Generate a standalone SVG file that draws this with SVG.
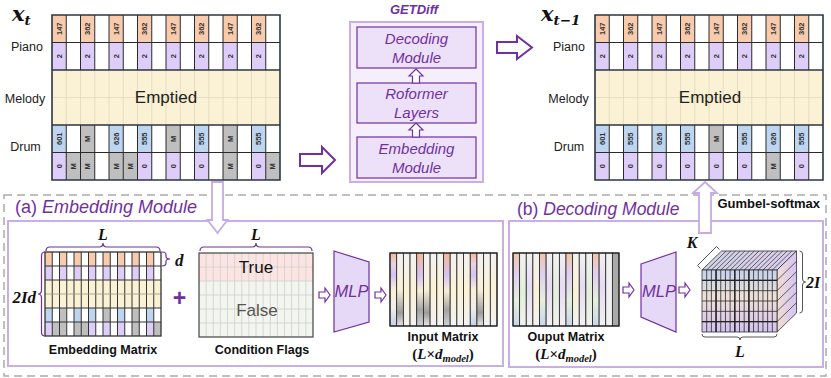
<svg xmlns="http://www.w3.org/2000/svg" xmlns:xlink="http://www.w3.org/1999/xlink" width="831" height="378" viewBox="0 0 831 378">
<style>
text{font-family:"Liberation Sans",Arial,sans-serif}
.ct{font-size:7.5px;font-weight:bold;fill:#333;text-anchor:middle;dominant-baseline:central}
.lbl{font-size:12.5px;fill:#222;text-anchor:middle}
.emp{font-size:17px;fill:#222;text-anchor:middle}
.mod{font-size:15px;font-style:italic;fill:#7030a0;text-anchor:middle}
.cap{font-size:12.5px;font-weight:bold;fill:#111;text-anchor:middle}
.math{font-family:"Liberation Serif","Times New Roman",serif;font-weight:bold;font-style:italic;fill:#111}
.mx{font-family:"DejaVu Serif",serif;font-weight:bold;font-style:italic;fill:#111}
.or{fill:#f8cbad}.pu{fill:#ddcdf8}.bl{fill:#bdd5ee}.gr{fill:#bfbfbf}
.dk{stroke:#2a2a2a;stroke-width:1;fill:none}
.fa{stroke:#e2d8bc;stroke-width:0.8;fill:none}
.thick{stroke:#2b3644;stroke-width:1.6;fill:none}
.inner{fill:#ece1f8;stroke:#7030a0;stroke-width:1.2}
.big{fill:#fff;stroke:#7030a0;stroke-width:2;stroke-linejoin:miter}
.lt{fill:#fff;stroke:#c6aae8;stroke-width:1.8}
.sa{fill:#fff;stroke:#7030a0;stroke-width:1.2}
.brace{fill:none;stroke:#7030a0;stroke-width:1.2}
.gbrace{fill:none;stroke:#555;stroke-width:1}
.mlp{fill:#e6d9f8;stroke:#7030a0;stroke-width:1.2}
.mlpt{font-size:16.5px;font-style:italic;fill:#7030a0;text-anchor:middle}
.st{stroke:#222;stroke-width:0.8}
</style>
<defs>
<linearGradient id="gN1" x1="0" y1="0" x2="0" y2="1"><stop offset="0" stop-color="#f4b894"/><stop offset="0.15" stop-color="#ecd2e4"/><stop offset="0.3" stop-color="#d6c2f2"/><stop offset="0.5" stop-color="#faf0d8"/><stop offset="0.75" stop-color="#f2efea"/><stop offset="1" stop-color="#c2d0ea"/></linearGradient>
<linearGradient id="gN2" x1="0" y1="0" x2="0" y2="1"><stop offset="0" stop-color="#f4b894"/><stop offset="0.3" stop-color="#d6c2f2"/><stop offset="0.52" stop-color="#f8eed6"/><stop offset="0.78" stop-color="#a4a4a4"/><stop offset="1" stop-color="#d0d0d0"/></linearGradient>
<linearGradient id="gE1" x1="0" y1="0" x2="0" y2="1"><stop offset="0" stop-color="#f2f2f2"/><stop offset="0.5" stop-color="#fbf1d6"/><stop offset="1" stop-color="#f2f2f2"/></linearGradient>
<linearGradient id="gE2" x1="0" y1="0" x2="0" y2="1"><stop offset="0" stop-color="#f2f2f2"/><stop offset="0.5" stop-color="#faf0d8"/><stop offset="0.82" stop-color="#9c9c9c"/><stop offset="1" stop-color="#e6e6e6"/></linearGradient>
<linearGradient id="gO1" x1="0" y1="0" x2="0" y2="1"><stop offset="0" stop-color="#f2c4a8"/><stop offset="0.3" stop-color="#e0d0f2"/><stop offset="0.65" stop-color="#e4efdc"/><stop offset="1" stop-color="#c8d6ec"/></linearGradient>
<linearGradient id="gO2" x1="0" y1="0" x2="0" y2="1"><stop offset="0" stop-color="#f1f1f1"/><stop offset="0.45" stop-color="#e6dbf4"/><stop offset="1" stop-color="#f1f1f1"/></linearGradient>
<linearGradient id="gO3" x1="0" y1="0" x2="0" y2="1"><stop offset="0" stop-color="#f1f1f1"/><stop offset="0.55" stop-color="#e2efda"/><stop offset="1" stop-color="#f1f1f1"/></linearGradient>
<linearGradient id="gCf" x1="0" y1="0" x2="0" y2="1"><stop offset="0" stop-color="#c4d2ec"/><stop offset="0.45" stop-color="#efe0d6"/><stop offset="0.7" stop-color="#e4d2e2"/><stop offset="1" stop-color="#d2c2f2"/></linearGradient>
<linearGradient id="gCs" x1="0" y1="0" x2="1" y2="0"><stop offset="0" stop-color="#f2ddd2"/><stop offset="1" stop-color="#d4c4f4"/></linearGradient>
<linearGradient id="gCt" x1="0" y1="0" x2="1" y2="0"><stop offset="0" stop-color="#cfd2e2"/><stop offset="1" stop-color="#dccdf0"/></linearGradient>
<polygon id="sa" class="sa" points="0,-3 6,-3 6,-7 11,0 6,7 6,3 0,3"/>
<g id="piano">
<rect x="52" y="70" width="228" height="55" fill="#fbf2d5"/>
<rect class="or" x="52" y="15" width="14.25" height="27.5"/><rect class="or" x="80.5" y="15" width="14.25" height="27.5"/><rect class="or" x="109" y="15" width="14.25" height="27.5"/><rect class="or" x="137.5" y="15" width="14.25" height="27.5"/><rect class="or" x="166" y="15" width="14.25" height="27.5"/><rect class="or" x="194.5" y="15" width="14.25" height="27.5"/><rect class="or" x="223" y="15" width="14.25" height="27.5"/><rect class="or" x="251.5" y="15" width="14.25" height="27.5"/>
<rect class="pu" x="52" y="42.5" width="14.25" height="27.5"/><rect class="pu" x="80.5" y="42.5" width="14.25" height="27.5"/><rect class="pu" x="109" y="42.5" width="14.25" height="27.5"/><rect class="pu" x="137.5" y="42.5" width="14.25" height="27.5"/><rect class="pu" x="166" y="42.5" width="14.25" height="27.5"/><rect class="pu" x="194.5" y="42.5" width="14.25" height="27.5"/><rect class="pu" x="223" y="42.5" width="14.25" height="27.5"/><rect class="pu" x="251.5" y="42.5" width="14.25" height="27.5"/>
<text class="ct" transform="translate(59.125 28.75) rotate(-90)">147</text><text class="ct" transform="translate(87.625 28.75) rotate(-90)">362</text><text class="ct" transform="translate(116.125 28.75) rotate(-90)">147</text><text class="ct" transform="translate(144.625 28.75) rotate(-90)">362</text><text class="ct" transform="translate(173.125 28.75) rotate(-90)">147</text><text class="ct" transform="translate(201.625 28.75) rotate(-90)">362</text><text class="ct" transform="translate(230.125 28.75) rotate(-90)">147</text><text class="ct" transform="translate(258.625 28.75) rotate(-90)">362</text>
<text class="ct" transform="translate(59.125 56.25) rotate(-90)">2</text><text class="ct" transform="translate(87.625 56.25) rotate(-90)">2</text><text class="ct" transform="translate(116.125 56.25) rotate(-90)">2</text><text class="ct" transform="translate(144.625 56.25) rotate(-90)">2</text><text class="ct" transform="translate(173.125 56.25) rotate(-90)">2</text><text class="ct" transform="translate(201.625 56.25) rotate(-90)">2</text><text class="ct" transform="translate(230.125 56.25) rotate(-90)">2</text><text class="ct" transform="translate(258.625 56.25) rotate(-90)">2</text>
</g>
<g id="lines">
<path class="fa" d="M66.25 70V125M80.5 70V125M94.75 70V125M109 70V125M123.25 70V125M137.5 70V125M151.75 70V125M166 70V125M180.25 70V125M194.5 70V125M208.75 70V125M223 70V125M237.25 70V125M251.5 70V125M265.75 70V125M52 97.5H280"/>
<path class="dk" d="M66.25 15V70M80.5 15V70M94.75 15V70M109 15V70M123.25 15V70M137.5 15V70M151.75 15V70M166 15V70M180.25 15V70M194.5 15V70M208.75 15V70M223 15V70M237.25 15V70M251.5 15V70M265.75 15V70M66.25 125V180M80.5 125V180M94.75 125V180M109 125V180M123.25 125V180M137.5 125V180M151.75 125V180M166 125V180M180.25 125V180M194.5 125V180M208.75 125V180M223 125V180M237.25 125V180M251.5 125V180M265.75 125V180M52 42.5H280M52 152.5H280"/>
<path class="thick" d="M52 15H280V180H52ZM52 70H280M52 125H280"/>
</g>
</defs>

<g id="node-xt">
<text class="mx" x="12" y="21" font-size="21">x<tspan font-size="13.5" dy="4">t</tspan></text>
<use xlink:href="#piano"/>
<rect class="bl" x="52" y="125" width="14.25" height="27.5"/><rect class="gr" x="80.5" y="125" width="14.25" height="27.5"/><rect class="bl" x="109" y="125" width="14.25" height="27.5"/><rect class="bl" x="137.5" y="125" width="14.25" height="27.5"/><rect class="gr" x="166" y="125" width="14.25" height="27.5"/><rect class="bl" x="194.5" y="125" width="14.25" height="27.5"/><rect class="gr" x="223" y="125" width="14.25" height="27.5"/><rect class="bl" x="251.5" y="125" width="14.25" height="27.5"/>
<rect class="pu" x="52" y="152.5" width="14.25" height="27.5"/><rect class="gr" x="66.25" y="152.5" width="14.25" height="27.5"/><rect class="gr" x="80.5" y="152.5" width="14.25" height="27.5"/><rect class="gr" x="109" y="152.5" width="14.25" height="27.5"/><rect class="gr" x="123.25" y="152.5" width="14.25" height="27.5"/><rect class="pu" x="137.5" y="152.5" width="14.25" height="27.5"/><rect class="pu" x="166" y="152.5" width="14.25" height="27.5"/><rect class="pu" x="194.5" y="152.5" width="14.25" height="27.5"/><rect class="gr" x="223" y="152.5" width="14.25" height="27.5"/><rect class="pu" x="251.5" y="152.5" width="14.25" height="27.5"/><rect class="gr" x="265.75" y="152.5" width="14.25" height="27.5"/>
<text class="ct" transform="translate(59.125 138.75) rotate(-90)">601</text><text class="ct" transform="translate(87.625 138.75) rotate(-90)">M</text><text class="ct" transform="translate(116.125 138.75) rotate(-90)">626</text><text class="ct" transform="translate(144.625 138.75) rotate(-90)">555</text><text class="ct" transform="translate(173.125 138.75) rotate(-90)">M</text><text class="ct" transform="translate(201.625 138.75) rotate(-90)">555</text><text class="ct" transform="translate(230.125 138.75) rotate(-90)">M</text><text class="ct" transform="translate(258.625 138.75) rotate(-90)">555</text>
<text class="ct" transform="translate(59.125 166.25) rotate(-90)">0</text><text class="ct" transform="translate(73.375 166.25) rotate(-90)">M</text><text class="ct" transform="translate(87.625 166.25) rotate(-90)">M</text><text class="ct" transform="translate(116.125 166.25) rotate(-90)">M</text><text class="ct" transform="translate(130.375 166.25) rotate(-90)">M</text><text class="ct" transform="translate(144.625 166.25) rotate(-90)">0</text><text class="ct" transform="translate(173.125 166.25) rotate(-90)">0</text><text class="ct" transform="translate(201.625 166.25) rotate(-90)">0</text><text class="ct" transform="translate(230.125 166.25) rotate(-90)">M</text><text class="ct" transform="translate(258.625 166.25) rotate(-90)">0</text><text class="ct" transform="translate(272.875 166.25) rotate(-90)">M</text>
<use xlink:href="#lines"/>
<text class="emp" x="166" y="103">Emptied</text>
<text class="lbl" x="27" y="51">Piano</text>
<text class="lbl" x="25" y="103">Melody</text>
<text class="lbl" x="25.5" y="151">Drum</text>
</g>

<g id="node-xt1">
<text class="mx" x="541" y="21" font-size="21">x<tspan font-size="13.5" dy="4">t−1</tspan></text>
<g transform="translate(543 0)">
<use xlink:href="#piano"/>
<rect class="bl" x="52" y="125" width="14.25" height="27.5"/><rect class="bl" x="80.5" y="125" width="14.25" height="27.5"/><rect class="bl" x="109" y="125" width="14.25" height="27.5"/><rect class="bl" x="137.5" y="125" width="14.25" height="27.5"/><rect class="gr" x="166" y="125" width="14.25" height="27.5"/><rect class="bl" x="194.5" y="125" width="14.25" height="27.5"/><rect class="bl" x="223" y="125" width="14.25" height="27.5"/><rect class="bl" x="251.5" y="125" width="14.25" height="27.5"/>
<rect class="pu" x="52" y="152.5" width="14.25" height="27.5"/><rect class="pu" x="80.5" y="152.5" width="14.25" height="27.5"/><rect class="pu" x="109" y="152.5" width="14.25" height="27.5"/><rect class="pu" x="137.5" y="152.5" width="14.25" height="27.5"/><rect class="pu" x="166" y="152.5" width="14.25" height="27.5"/><rect class="pu" x="194.5" y="152.5" width="14.25" height="27.5"/><rect class="gr" x="223" y="152.5" width="14.25" height="27.5"/><rect class="pu" x="251.5" y="152.5" width="14.25" height="27.5"/>
<text class="ct" transform="translate(59.125 138.75) rotate(-90)">601</text><text class="ct" transform="translate(87.625 138.75) rotate(-90)">555</text><text class="ct" transform="translate(116.125 138.75) rotate(-90)">626</text><text class="ct" transform="translate(144.625 138.75) rotate(-90)">555</text><text class="ct" transform="translate(173.125 138.75) rotate(-90)">M</text><text class="ct" transform="translate(201.625 138.75) rotate(-90)">555</text><text class="ct" transform="translate(230.125 138.75) rotate(-90)">626</text><text class="ct" transform="translate(258.625 138.75) rotate(-90)">555</text>
<text class="ct" transform="translate(59.125 166.25) rotate(-90)">0</text><text class="ct" transform="translate(87.625 166.25) rotate(-90)">0</text><text class="ct" transform="translate(116.125 166.25) rotate(-90)">0</text><text class="ct" transform="translate(144.625 166.25) rotate(-90)">0</text><text class="ct" transform="translate(173.125 166.25) rotate(-90)">0</text><text class="ct" transform="translate(201.625 166.25) rotate(-90)">0</text><text class="ct" transform="translate(230.125 166.25) rotate(-90)">M</text><text class="ct" transform="translate(258.625 166.25) rotate(-90)">0</text>
<use xlink:href="#lines"/>
<text class="emp" x="167" y="103">Emptied</text>
</g>
<text class="lbl" x="569" y="51">Piano</text>
<text class="lbl" x="568.5" y="103">Melody</text>
<text class="lbl" x="569" y="151">Drum</text>
</g>

<g id="node-getdiff">
<text x="414" y="14" font-size="13" font-weight="bold" font-style="italic" fill="#7030a0" text-anchor="middle">GETDiff</text>
<rect x="350" y="22" width="133" height="160" fill="#f5eefc" stroke="#c9aee8" stroke-width="2"/>
<g id="node-decoding"><rect class="inner" x="357" y="27" width="119" height="41"/><text class="mod" x="416.5" y="44">Decoding</text><text class="mod" x="416.5" y="63">Module</text></g>
<g id="node-roformer"><rect class="inner" x="357" y="83" width="119" height="40"/><text class="mod" x="416.5" y="99">Roformer</text><text class="mod" x="416.5" y="118">Layers</text></g>
<g id="node-embedding"><rect class="inner" x="357" y="137" width="119" height="41"/><text class="mod" x="416.5" y="154">Embedding</text><text class="mod" x="416.5" y="173">Module</text></g>
<polygon class="sa" points="416,69 423,76 419.5,76 419.5,83 412.5,83 412.5,76 409,76"/>
<polygon class="sa" points="416,123 423,130 419.5,130 419.5,137 412.5,137 412.5,130 409,130"/>
</g>

<g id="panels">
<rect x="4" y="195" width="822" height="181" fill="none" stroke="#aaa" stroke-width="1.5" stroke-dasharray="8 5"/>
<rect x="8" y="221" width="495" height="145" fill="none" stroke="#c9aeea" stroke-width="2"/>
<rect x="509" y="221" width="314" height="146" fill="none" stroke="#c9aeea" stroke-width="2"/>
<text x="15" y="213" font-size="18" fill="#7030a0">(a) <tspan font-style="italic">Embedding Module</tspan></text>
<text x="517" y="215" font-size="17.5" fill="#7030a0">(b) <tspan font-style="italic">Decoding Module</tspan></text>
<text x="820" y="208" font-size="13" font-weight="bold" fill="#111" text-anchor="end">Gumbel-softmax</text>
</g>

<g id="node-embmatrix">
<rect class="or" x="45" y="252" width="7.25" height="14"/><rect class="or" x="59.5" y="252" width="7.25" height="14"/><rect class="or" x="74" y="252" width="7.25" height="14"/><rect class="or" x="88.5" y="252" width="7.25" height="14"/><rect class="or" x="103" y="252" width="7.25" height="14"/><rect class="or" x="117.5" y="252" width="7.25" height="14"/><rect class="or" x="132" y="252" width="7.25" height="14"/><rect class="or" x="146.5" y="252" width="7.25" height="14"/>
<rect class="pu" x="45" y="266" width="7.25" height="14"/><rect class="pu" x="59.5" y="266" width="7.25" height="14"/><rect class="pu" x="74" y="266" width="7.25" height="14"/><rect class="pu" x="88.5" y="266" width="7.25" height="14"/><rect class="pu" x="103" y="266" width="7.25" height="14"/><rect class="pu" x="117.5" y="266" width="7.25" height="14"/><rect class="pu" x="132" y="266" width="7.25" height="14"/><rect class="pu" x="146.5" y="266" width="7.25" height="14"/>
<rect x="45" y="280" width="116" height="28" fill="#fbf2d5"/>
<rect class="bl" x="45" y="308" width="7.25" height="14"/><rect class="gr" x="59.5" y="308" width="7.25" height="14"/><rect class="bl" x="74" y="308" width="7.25" height="14"/><rect class="bl" x="88.5" y="308" width="7.25" height="14"/><rect class="gr" x="103" y="308" width="7.25" height="14"/><rect class="bl" x="117.5" y="308" width="7.25" height="14"/><rect class="gr" x="132" y="308" width="7.25" height="14"/><rect class="bl" x="146.5" y="308" width="7.25" height="14"/>
<rect class="pu" x="45" y="322" width="7.25" height="14"/><rect class="gr" x="52.25" y="322" width="7.25" height="14"/><rect class="gr" x="59.5" y="322" width="7.25" height="14"/><rect class="gr" x="74" y="322" width="7.25" height="14"/><rect class="gr" x="81.25" y="322" width="7.25" height="14"/><rect class="pu" x="88.5" y="322" width="7.25" height="14"/><rect class="pu" x="103" y="322" width="7.25" height="14"/><rect class="pu" x="117.5" y="322" width="7.25" height="14"/><rect class="gr" x="132" y="322" width="7.25" height="14"/><rect class="pu" x="146.5" y="322" width="7.25" height="14"/><rect class="gr" x="153.75" y="322" width="7.25" height="14"/>
<path stroke="#333" stroke-width="1" fill="none" d="M52.25 252V336M59.5 252V336M66.75 252V336M74 252V336M81.25 252V336M88.5 252V336M95.75 252V336M103 252V336M110.25 252V336M117.5 252V336M124.75 252V336M132 252V336M139.25 252V336M146.5 252V336M153.75 252V336M45 266H161M45 280H161M45 308H161M45 322H161"/>
<path stroke="#9a9488" stroke-width="0.8" fill="none" d="M45 294H161"/>
<rect x="45" y="252" width="116" height="84" fill="none" stroke="#333" stroke-width="1.3"/>
<path class="brace" d="M46 251Q46 247 50 247H99Q103 247 103 243Q103 247 107 247H156Q160 247 160 251"/>
<text class="math" x="103" y="240" font-size="16" text-anchor="middle">L</text>
<path class="brace" d="M45 252Q41.5 252 41.5 256V290Q41.5 294 38 294Q41.5 294 41.5 298V332Q41.5 336 45 336"/>
<text class="math" x="36" y="303" font-size="17" text-anchor="end">2Id</text>
<path class="brace" d="M162 252Q166 252 166 255V256.5Q166 259 170 259Q166 259 166 261.5V263Q166 266 162 266"/>
<text class="math" x="175" y="266" font-size="17">d</text>
<text class="cap" x="103" y="354">Embedding Matrix</text>
</g>

<text x="179.5" y="306" font-size="23" font-weight="bold" fill="#7030a0" text-anchor="middle">+</text>

<g id="node-condflags">
<rect x="199" y="253" width="114" height="28" fill="#fbe4e2"/>
<rect x="199" y="281" width="114" height="56" fill="#f3f6ee"/>
<path stroke="#cfcfcf" stroke-width="0.8" fill="none" d="M206.13 253V337M213.25 253V337M220.38 253V337M227.5 253V337M234.63 253V337M241.75 253V337M248.88 253V337M256 253V337M263.13 253V337M270.25 253V337M277.38 253V337M284.5 253V337M291.63 253V337M298.75 253V337M305.88 253V337M199 267H313M199 281H313M199 295H313M199 309H313M199 323H313"/>
<rect x="199" y="253" width="114" height="84" fill="none" stroke="#444" stroke-width="1.2"/>
<text x="256" y="273" font-size="17" fill="#111" text-anchor="middle">True</text>
<text x="257" y="316" font-size="17" fill="#555" text-anchor="middle">False</text>
<path class="brace" d="M200 251Q200 247 204 247H252Q256 247 256 243Q256 247 260 247H308Q312 247 312 251"/>
<text class="math" x="256" y="240" font-size="16" text-anchor="middle">L</text>
<text class="cap" x="262" y="354">Condition Flags</text>
</g>

<g id="node-mlp-a">
<polygon class="mlp" points="334,251 369,262 369,322 334,332"/>
<text class="mlpt" x="351.5" y="297">MLP</text>
</g>

<g id="node-input">
<g class="st">
<rect x="390" y="253" width="6.69" height="73" fill="url(#gN1)"/><rect x="396.69" y="253" width="6.69" height="73" fill="url(#gE2)"/><rect x="403.38" y="253" width="6.69" height="73" fill="url(#gE1)"/><rect x="410.06" y="253" width="6.69" height="73" fill="url(#gE1)"/><rect x="416.75" y="253" width="6.69" height="73" fill="url(#gN2)"/><rect x="423.44" y="253" width="6.69" height="73" fill="url(#gE2)"/><rect x="430.13" y="253" width="6.69" height="73" fill="url(#gE1)"/><rect x="436.81" y="253" width="6.69" height="73" fill="url(#gE1)"/><rect x="443.5" y="253" width="6.69" height="73" fill="url(#gN2)"/><rect x="450.19" y="253" width="6.69" height="73" fill="url(#gE1)"/><rect x="456.88" y="253" width="6.69" height="73" fill="url(#gE1)"/><rect x="463.56" y="253" width="6.69" height="73" fill="url(#gE1)"/><rect x="470.25" y="253" width="6.69" height="73" fill="url(#gN1)"/><rect x="476.94" y="253" width="6.69" height="73" fill="url(#gE2)"/><rect x="483.63" y="253" width="6.69" height="73" fill="url(#gE1)"/><rect x="490.31" y="253" width="6.69" height="73" fill="url(#gE1)"/>
</g>
<rect x="390" y="253" width="107" height="73" fill="none" stroke="#222" stroke-width="1.2"/>
<text class="cap" x="443" y="341">Input Matrix</text>
<text class="math" x="443" y="359" font-size="15" text-anchor="middle"><tspan font-style="normal">(</tspan>L<tspan font-style="normal">×</tspan>d<tspan font-size="10.5" dy="3">model</tspan><tspan font-style="normal" dy="-3">)</tspan></text>
</g>

<g id="node-output">
<g class="st">
<rect x="513" y="253" width="6.63" height="73" fill="url(#gO1)"/><rect x="519.63" y="253" width="6.63" height="73" fill="url(#gO3)"/><rect x="526.25" y="253" width="6.63" height="73" fill="url(#gO2)"/><rect x="532.88" y="253" width="6.63" height="73" fill="url(#gE1)"/><rect x="539.5" y="253" width="6.63" height="73" fill="url(#gO1)"/><rect x="546.13" y="253" width="6.63" height="73" fill="url(#gO2)"/><rect x="552.75" y="253" width="6.63" height="73" fill="url(#gO3)"/><rect x="559.38" y="253" width="6.63" height="73" fill="url(#gO2)"/><rect x="566" y="253" width="6.63" height="73" fill="url(#gO1)"/><rect x="572.63" y="253" width="6.63" height="73" fill="url(#gE1)"/><rect x="579.25" y="253" width="6.63" height="73" fill="url(#gO2)"/><rect x="585.88" y="253" width="6.63" height="73" fill="url(#gO3)"/><rect x="592.5" y="253" width="6.63" height="73" fill="url(#gO1)"/><rect x="599.13" y="253" width="6.63" height="73" fill="url(#gO2)"/><rect x="605.75" y="253" width="6.63" height="73" fill="#f0f0f0"/><rect x="612.38" y="253" width="6.63" height="73" fill="#a9a9a9"/>
</g>
<rect x="513" y="253" width="106" height="73" fill="none" stroke="#222" stroke-width="1.2"/>
<text class="cap" x="566" y="341">Ouput Matrix</text>
<text class="math" x="566" y="359" font-size="15" text-anchor="middle"><tspan font-style="normal">(</tspan>L<tspan font-style="normal">×</tspan>d<tspan font-size="10.5" dy="3">model</tspan><tspan font-style="normal" dy="-3">)</tspan></text>
</g>

<g id="node-mlp-b">
<polygon class="mlp" points="641,264 676,252 676,332 641,317"/>
<text class="mlpt" x="659" y="297">MLP</text>
</g>

<g id="node-cube">
<polygon points="702,270 721.5,251 796.5,251 777,270" fill="url(#gCt)" stroke="#333" stroke-width="0.8"/>
<polygon points="777,270 796.5,251 796.5,313 777,332" fill="url(#gCs)" stroke="#333" stroke-width="0.8"/>
<rect x="702" y="270" width="75" height="62" fill="url(#gCf)" stroke="#333" stroke-width="0.8"/>
<path stroke="#2a2a2a" stroke-width="0.7" fill="none" d="M706.69 270l19.5 -19M711.38 270l19.5 -19M716.06 270l19.5 -19M720.75 270l19.5 -19M725.44 270l19.5 -19M730.13 270l19.5 -19M734.81 270l19.5 -19M739.5 270l19.5 -19M744.19 270l19.5 -19M748.88 270l19.5 -19M753.56 270l19.5 -19M758.25 270l19.5 -19M762.94 270l19.5 -19M767.63 270l19.5 -19M772.31 270l19.5 -19M777 280.33l19.5 -19M777 290.67l19.5 -19M777 301l19.5 -19M777 311.33l19.5 -19M777 321.67l19.5 -19"/>
<path stroke="#2a2a2a" stroke-width="0.8" fill="none" d="M706.69 270V332M711.38 270V332M716.06 270V332M720.75 270V332M725.44 270V332M730.13 270V332M734.81 270V332M739.5 270V332M744.19 270V332M748.88 270V332M753.56 270V332M758.25 270V332M762.94 270V332M767.63 270V332M772.31 270V332M702 280.33H777M702 290.67H777M702 301H777M702 311.33H777M702 321.67H777"/>
<path stroke="#222" stroke-width="1.4" fill="none" d="M716.06 270V332M734.81 270V332M748.88 270V332M702 280.33H777M702 321.67H777"/>
<path class="gbrace" d="M700.5 268.5L697.5 265.5L716.5 246.5L719.5 249.5"/>
<text class="math" x="692" y="248" font-size="16" text-anchor="middle">K</text>
<path class="gbrace" d="M799.5 251Q802.5 251 802.5 254V279Q802.5 282 805.5 282Q802.5 282 802.5 285V310Q802.5 313 799.5 313"/>
<text class="math" x="806" y="288" font-size="16">2I</text>
<path class="gbrace" d="M702 334Q702 337 705 337H737Q740 337 740 340Q740 337 743 337H774Q777 337 777 334"/>
<text class="math" x="740" y="357" font-size="16" text-anchor="middle">L</text>
</g>

<g id="connectors">
<polygon class="big" points="300,154 322,154 322,147 335,160 322,173 322,166 300,166"/>
<polygon class="big" points="497,42 517,42 517,36 532,47.5 517,59 517,53 497,53"/>
<polygon class="lt" points="212,182 223,182 223,220 227.5,220 217.5,233 207.5,220 212,220"/>
<polygon class="lt" points="705,182 717,193 711,193 711,233 699,233 699,193 693,193"/>
<use xlink:href="#sa" x="319" y="295"/>
<use xlink:href="#sa" x="375" y="295"/>
<use xlink:href="#sa" x="623" y="290"/>
<use xlink:href="#sa" x="679" y="290"/>
</g>
</svg>
